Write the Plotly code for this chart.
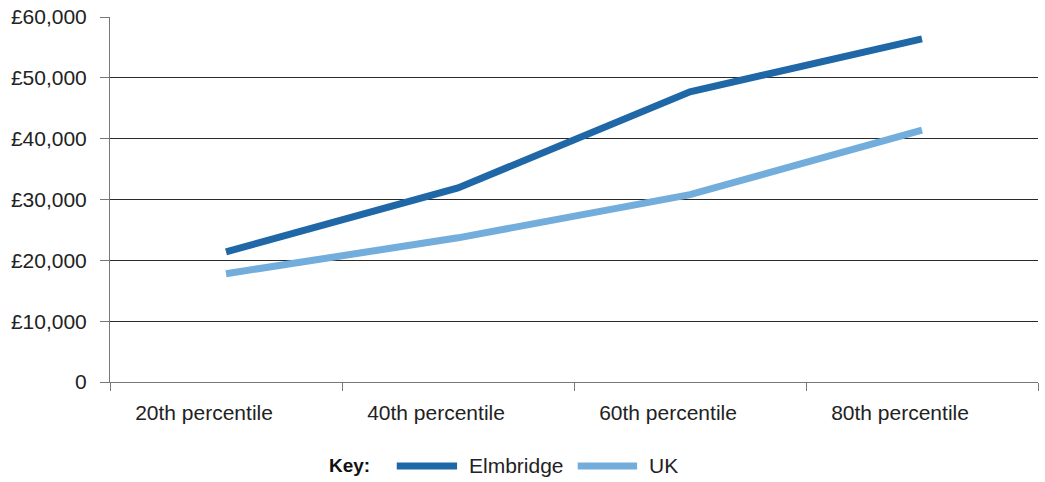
import plotly.graph_objects as go

categories = ['20th percentile', '40th percentile', '60th percentile', '80th percentile']
elmbridge = [21400, 31900, 47700, 56400]
uk = [17800, 23700, 30800, 41400]

y_ticks = [0, 10000, 20000, 30000, 40000, 50000, 60000]
y_labels = ['0', '£10,000', '£20,000', '£30,000', '£40,000', '£50,000', '£60,000']

series = [('Elmbridge', elmbridge, '#1f67a6'), ('UK', uk, '#72addb')]

font = 'Liberation Sans, Arial, sans-serif'

fig = go.Figure()

for name, vals, col in series:
    fig.add_trace(go.Scatter(
        x=categories, y=vals, name=name,
        mode='lines',
        line={'color': col, 'width': 7}))

# hand-made key below the chart
ly = -0.23
fig.add_annotation(xref='paper', yref='paper', x=0.234, y=ly,
                   text='<b>Key:</b>', showarrow=False,
                   xanchor='left', yanchor='middle',
                   font=dict(size=19, color='#111111'))
key_pos = [(0.309, 0.374, 0.385), (0.504, 0.568, 0.579)]
for (name, vals, col), (x0, x1, xt) in zip(series, key_pos):
    fig.add_shape(type='line', xref='paper', yref='paper',
                  x0=x0, x1=x1, y0=ly, y1=ly,
                  line=dict(color=col, width=7))
    fig.add_annotation(xref='paper', yref='paper', x=xt, y=ly,
                       text=name, showarrow=False,
                       xanchor='left', yanchor='middle',
                       font=dict(size=21, color='#222222'))

fig.update_layout(
    width=1045, height=482,
    margin=dict(l=110, r=7, t=17, b=100),
    plot_bgcolor='white',
    paper_bgcolor='white',
    font=dict(family=font, size=21, color='#222222'),
    showlegend=False,
    xaxis=dict(
        type='category',
        range=[-0.5, 3.5],
        tickson='boundaries',
        ticks='outside',
        ticklen=8,
        tickcolor='#777777',
        showline=True,
        linecolor='#777777',
        linewidth=1,
        showgrid=False,
        automargin=False,
        ticklabelstandoff=12,
        ticklabelshift=-22,
        tickfont=dict(size=21, color='#222222'),
    ),
    yaxis=dict(
        range=[0, 60000],
        tickvals=y_ticks,
        ticktext=y_labels,
        ticks='outside',
        ticklen=9,
        tickcolor='#777777',
        showline=True,
        linecolor='#777777',
        showgrid=True,
        gridcolor='#2a2a2a',
        gridwidth=1,
        zeroline=False,
        automargin=False,
        ticklabelstandoff=9,
        tickfont=dict(size=21, color='#222222'),
    ),
)

# drop the page's default body margin so the figure sits at 0,0
fig.write_html('out.html', config={'displayModeBar': False},
               post_script="document.body.style.margin='0';")
